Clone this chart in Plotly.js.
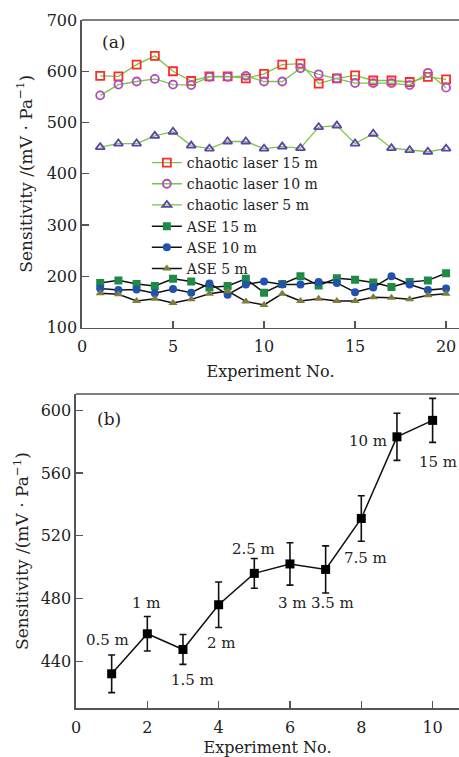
<!DOCTYPE html>
<html>
<head>
<meta charset="utf-8">
<script src="https://cdn.plot.ly/plotly-3.0.1.min.js"></script>
<style>html,body{margin:0;padding:0;background:#fff;overflow:hidden;}#chart{width:459px;height:757px;}</style>
</head>
<body>
<div id="chart"></div>
<script>
// Panel (a)
const experimentsA = [1,2,3,4,5,6,7,8,9,10,11,12,13,14,15,16,17,18,19,20];
const chaotic15 = [591,590,613,630,600,581,590,590,586,595,613,615,576,586,592,582,582,579,589,584];
const chaotic10 = [553,574,580,585,574,573,589,589,591,580,580,606,594,586,577,577,577,573,597,568];
const chaotic5  = [452,459,459,474,482,455,449,463,463,449,453,450,491,494,459,478,450,446,443,449];
const ase15 = [187,192,185,181,195,190,178,181,195,168,185,200,182,196,193,188,179,189,192,206];
const ase10 = [176,173,174,167,175,168,186,164,184,190,184,184,189,187,169,178,200,184,173,176];
const ase5  = [167,165,152,156,148,155,166,171,151,144,166,152,156,152,152,159,158,155,163,166];
const seriesNamesA = ["chaotic laser 15 m","chaotic laser 10 m","chaotic laser 5 m","ASE 15 m","ASE 10 m","ASE 5 m"];

// Panel (b)
const experimentsB = [1,2,3,4,5,6,7,8,9,10];
const sensitivityB = [432,457.5,447.5,476,496,502,498.5,531,583,593.5];
const errorB = [12,11,9.5,14.5,9.5,13.5,15,14.5,15,14];
const lengthLabels = ["0.5 m","1 m","1.5 m","2 m","2.5 m","3 m","3.5 m","7.5 m","10 m","15 m"];
const labelX = [0.89,1.98,3.27,4.07,4.97,6.07,7.2,8.13,8.2,10.15];
const labelY = [453.4,477.4,428.3,451.7,511.5,476.8,476.8,505.5,580.3,567];

const FONT = "DejaVu Serif, serif";
const GREEN = "#79c545";

const mk = (y, name, sym, col, lineCol, filled) => ({
  x: experimentsA, y: y, name: name, type: "scatter", mode: "lines+markers",
  xaxis: "x", yaxis: "y",
  line: {color: lineCol, width: filled ? 1.5 : 1.3},
  marker: filled
    ? {symbol: sym, size: 8, color: col, line: {width: 0}}
    : {symbol: sym, size: 8, color: col, line: {color: col, width: 1.8}}
});

const traces = [
  mk(chaotic15, seriesNamesA[0], "square-open", "#ff2a2a", GREEN, false),
  mk(chaotic10, seriesNamesA[1], "circle-open", "#b04cc0", GREEN, false),
  mk(chaotic5,  seriesNamesA[2], "triangle-up-open", "#5a44a8", GREEN, false),
  mk(ase15, seriesNamesA[3], "square", "#1f8a45", "#111", true),
  mk(ase10, seriesNamesA[4], "circle", "#2152b0", "#111", true),
  mk(ase5,  seriesNamesA[5], "triangle-up", "#7d7d3c", "#111", true),
  {
    x: experimentsB, y: sensitivityB, type: "scatter", mode: "lines+markers",
    xaxis: "x2", yaxis: "y2", showlegend: false,
    line: {color: "#111", width: 1.5},
    marker: {symbol: "square", size: 9, color: "#000"},
    error_y: {type: "data", array: errorB, visible: true, color: "#111", thickness: 1.6, width: 3.5}
  }
];

const axisCommon = {
  showline: true, linecolor: "#555", linewidth: 1.6, ticks: "inside", ticklen: 7,
  tickwidth: 1.3, tickcolor: "#555", showgrid: false, zeroline: false,
  tickfont: {family: FONT, size: 16, color: "#222"}
};

const annotations = [
  {text: "(a)", x: 113, y: 42},
  {text: "(b)", x: 109, y: 419}
].map(a => ({text: a.text, xref: "paper", yref: "paper",
  x: (a.x - 76) / 383, y: (708 - a.y) / 688, xanchor: "center", yanchor: "middle",
  showarrow: false, font: {family: FONT, size: 17, color: "#222"}}));

lengthLabels.forEach((t, i) => annotations.push({
  text: t, x: labelX[i], y: labelY[i], xref: "x2", yref: "y2", showarrow: false,
  xanchor: "center", yanchor: "middle", font: {family: FONT, size: 15, color: "#222"}
}));

const ytitle = "Sensitivity /(mV · Pa<sup>−1</sup>)";

const layout = {
  width: 459, height: 757,
  margin: {l: 76, r: 0, t: 20, b: 49},
  paper_bgcolor: "#fff", plot_bgcolor: "#fff",
  font: {family: FONT, color: "#222"},
  showlegend: true,
  legend: {x: 0.185, y: 0.8155, xanchor: "left", yanchor: "top", bgcolor: "rgba(0,0,0,0)",
           font: {family: FONT, size: 14, color: "#222"}, tracegroupgap: 0, itemwidth: 30},
  xaxis: Object.assign({}, axisCommon, {domain: [6/383, 1], range: [0, 20.71], tickvals: [0,5,10,15,20],
    anchor: "y", ticklabelstandoff: 4,
    title: {text: "Experiment No.", font: {family: FONT, size: 16, color: "#222"}, standoff: 10}}),
  yaxis: Object.assign({}, axisCommon, {domain: [0.553, 1], range: [100, 700], tickvals: [100,200,300,400,500,600,700],
    anchor: "x",
    title: {text: ytitle, font: {family: FONT, size: 17, color: "#222"}, standoff: 10}}),
  xaxis2: Object.assign({}, axisCommon, {domain: [0, 1], range: [0, 10.74], tickvals: [0,2,4,6,8,10],
    anchor: "y2", ticklabelstandoff: 4,
    title: {text: "Experiment No.", font: {family: FONT, size: 16, color: "#222"}, standoff: 7}}),
  yaxis2: Object.assign({}, axisCommon, {domain: [0, 0.4564], range: [410.2, 610.3], tickvals: [440,480,520,560,600],
    anchor: "x2",
    title: {text: ytitle, font: {family: FONT, size: 17, color: "#222"}, standoff: 7}}),
  annotations: annotations,
  shapes: [
    {type: "line", xref: "paper", yref: "paper", x0: 6/383, x1: 1.05, y0: 1, y1: 1, line: {color: "#555", width: 1.6}},
    {type: "line", xref: "paper", yref: "paper", x0: 0, x1: 1.05, y0: 0.4564, y1: 0.4564, line: {color: "#555", width: 1.6}}
  ]
};

Plotly.newPlot("chart", traces, layout, {displayModeBar: false, staticPlot: true});
</script>
</body>
</html>
